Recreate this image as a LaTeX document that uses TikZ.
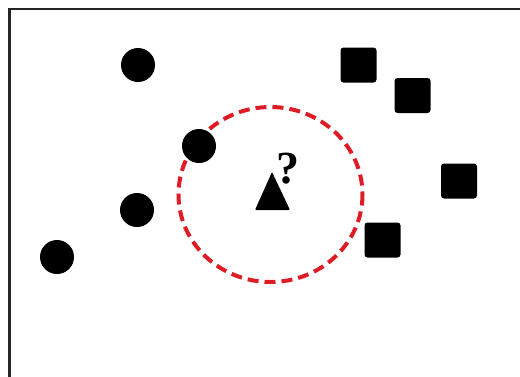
\documentclass[tikz,border=0pt]{standalone}
\usepackage{fontspec}
\setmainfont{Liberation Serif}
\definecolor{knnred}{RGB}{222,28,38}
\begin{document}
\begin{tikzpicture}[x=1pt,y=-1pt,
  dot/.style={circle,fill=black,inner sep=0pt,minimum size=34pt},
  sq/.style={rectangle,fill=black,inner sep=0pt,minimum width=36pt,minimum height=35pt,rounded corners=3pt},
  frame/.style={draw=black!85,line width=2.5pt},
  nbr/.style={draw=knnred,line width=4pt,dash pattern=on 11pt off 6pt}]
\useasboundingbox (0,0) rectangle (520,376);
\draw[frame] (9.5,9) rectangle (540,400);
% neighbourhood
\draw[nbr] (270.5,194.5) ellipse [x radius=92, y radius=87.5];
% class A: circles
\node[dot] (c1) at (138,65) {};
\node[dot] (c2) at (199,146) {};
\node[dot] (c3) at (137,210) {};
\node[dot] (c4) at (57,257) {};
% class B: squares
\node[sq] (s1) at (358.5,65) {};
\node[sq] (s2) at (412.5,95.5) {};
\node[sq] (s3) at (459,181) {};
\node[sq] (s4) at (382.5,240) {};
% query point
\fill[rounded corners=1pt] (272,172) coordinate (apex) -- (290,210) -- (255,210) -- cycle;
\node[anchor=base,inner sep=0pt,font=\fontsize{46}{46}\selectfont\bfseries] (q) at (287.5,183) {?};
\end{tikzpicture}
\end{document}
